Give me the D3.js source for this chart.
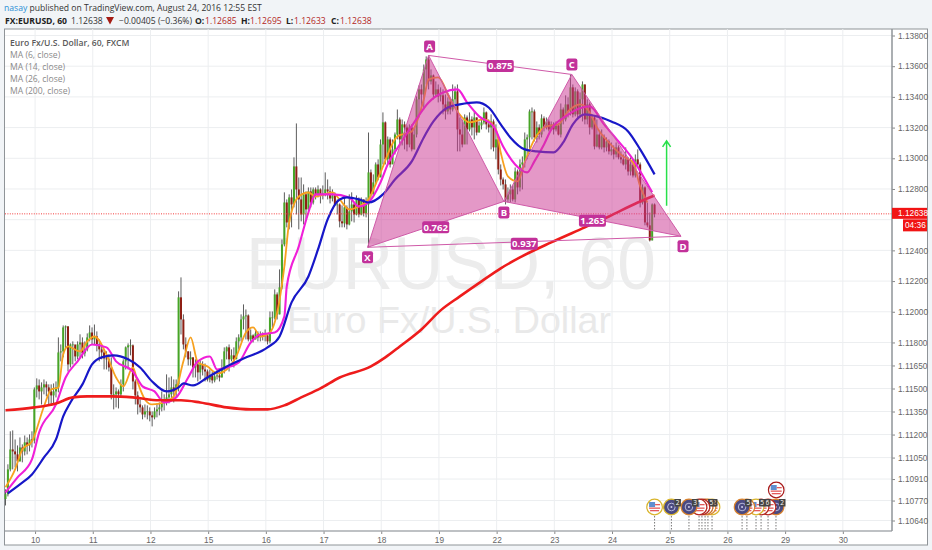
<!DOCTYPE html>
<html lang="en">
<head>
    <meta charset="UTF-8">
    <title>EURUSD 60</title>
    <script src="https://cdnjs.cloudflare.com/ajax/libs/d3/7.8.5/d3.min.js"></script>
    <style>
        body { margin: 0; background: #f1f4f7; }
        svg { display: block; }
        text { font-family: "Open Sans", sans-serif; }
        .axis text { font-family: "Liberation Sans", sans-serif; font-size: 8.3px; fill: #666; }
        .axis path { display: none; }
        .axis line { stroke: #888; }
    </style>
</head>
<body>

<script>
    var width = 932,
        height = 550;

    // tick labels
    var dayLabels = ["10", "11", "12", "15", "16", "17", "18", "19", "22", "23", "24", "25", "26", "29", "30"];
    var dayBars = [12.3, 36.3, 60.3, 84.3, 108.3, 132.3, 156.3, 180.3, 204.3, 228.3, 252.3, 276.3, 300.3, 324.3, 348.3];
    var priceTicks = [1.138, 1.136, 1.134, 1.132, 1.13, 1.128, 1.124, 1.122, 1.12, 1.118, 1.1165, 1.115, 1.1135, 1.112, 1.1105, 1.1091, 1.1077, 1.1064];
    var lastPrice = 1.12638;

    // hourly bars, open is the close of the bar before
    var closes = [
        1.10811,1.10973,1.11103,1.11090,1.11071,1.11025,1.11116,1.11090,1.11149,1.11129,1.11168,1.11162,1.11494,
        1.11520,1.11481,1.11507,1.11527,1.11507,1.11481,1.11455,1.11481,1.11507,1.11735,1.11742,1.11898,1.11905,
        1.11657,1.11787,1.11787,1.11709,1.11787,1.11800,1.11729,1.11755,1.11833,1.11865,1.11820,1.11840,1.11787,
        1.11755,1.11735,1.11696,1.11690,1.11637,1.11462,1.11462,1.11481,1.11462,1.11527,1.11677,1.11768,1.11781,1.11781,
        1.11546,1.11455,1.11396,1.11377,1.11331,1.11351,1.11351,1.11325,1.11312,1.11351,1.11364,1.11377,1.11409,1.11409,
        1.11442,1.11462,1.11507,1.11481,1.11527,1.12094,
        1.11950,1.11787,1.11742,1.11690,1.11703,1.11637,1.11657,1.11605,1.11657,1.11624,1.11611,1.11559,
        1.11585,1.11553,1.11579,1.11585,1.11572,1.11624,1.11742,1.11768,1.11690,1.11716,1.11690,1.11807,1.11833,
        1.11950,1.11970,1.11976,1.11820,1.11846,1.11820,1.11859,1.11833,1.11853,1.11840,1.11846,1.11807,1.11963,
        1.11963,1.12113,1.11983,1.12159,1.12439,1.12712,1.12582,1.12745,1.12699,1.12947,1.12797,1.12732,
        1.12634,1.12765,1.12667,1.12784,1.12712,1.12797,1.12758,1.12797,1.12758,1.12771,1.12797,1.12784,1.12738,
        1.12758,1.12699,1.12699,1.12589,1.12576,1.12680,1.12569,1.12654,1.12699,1.12634,1.12732,1.12634,1.12732,1.12641,1.12699,1.12908,
        1.12765,1.12843,1.12960,1.12875,1.13090,1.13234,1.12993,1.13123,1.12960,1.13058,1.13155,1.13253,1.13123,1.13221,
        1.13201,1.13090,1.13201,1.13058,1.13155,1.13384,1.13449,1.13416,1.13579,1.13644,1.13501,1.13540,1.13416,
        1.13449,1.13403,1.13410,1.13351,1.13305,1.13370,1.13318,1.13384,1.13436,1.13188,1.13155,1.13090,1.13266,1.13188,
        1.13253,1.13201,1.13266,1.13168,1.13214,1.13234,1.13299,1.13221,1.13201,1.13240,1.13071,1.13123,1.12927,1.12862,
        1.12830,1.12732,1.12765,1.12797,1.12732,1.12914,1.12810,1.12960,1.12973,1.13123,1.13136,1.13305,1.13305,
        1.13136,1.13201,1.13155,1.13260,1.13201,1.13240,1.13188,1.13221,1.13188,1.13214,1.13155,1.13318,1.13253,1.13351,1.13305,
        1.13462,1.13286,1.13436,1.13286,1.13384,1.13481,1.13253,1.13351,1.13201,1.13266,1.13077,1.13155,1.13071,1.13142,1.13071,
        1.13110,1.13045,1.13058,1.13025,1.13071,1.13006,1.12993,1.12960,1.12993,1.12914,1.12960,1.12888,1.12993,1.12960,1.12712,1.12810,1.12582,1.12563,1.12465,1.12699,1.12638
    ];
    var highs = [
        1.10843,1.11006,1.11221,1.11227,1.11168,1.11129,1.11181,1.11136,1.11194,1.11181,1.11201,1.11221,1.11507,
        1.11566,1.11559,1.11540,1.11559,1.11546,1.11527,1.11527,1.11533,1.11546,1.11833,1.11787,1.11911,1.11911,
        1.11905,1.11794,1.11807,1.11774,1.11807,1.11853,1.11833,1.11807,1.11859,1.11911,1.11898,1.11917,1.11872,
        1.11820,1.11787,1.11755,1.11742,1.11722,1.11703,1.11527,1.11507,1.11494,1.11559,1.11690,1.11774,1.11794,1.11820,
        1.11787,1.11559,1.11481,1.11429,1.11390,1.11396,1.11390,1.11377,1.11351,1.11377,1.11403,1.11409,1.11481,1.11462,
        1.11592,1.11572,1.11579,1.11559,1.11559,1.12133,
        1.12224,1.11983,1.11833,1.11742,1.11742,1.11703,1.11690,1.11670,1.11683,1.11677,1.11663,1.11624,
        1.11624,1.11611,1.11611,1.11624,1.11611,1.11690,1.11768,1.11774,1.11787,1.11755,1.11768,1.11833,1.11853,
        1.11983,1.12048,1.12015,1.11983,1.11885,1.11853,1.11885,1.11872,1.11872,1.11866,1.11885,1.11859,1.12002,
        1.12002,1.12146,1.12126,1.12276,1.12471,1.12778,1.12732,1.12765,1.12797,1.13006,1.13227,1.12875,
        1.12875,1.12830,1.12784,1.12810,1.12810,1.12810,1.12810,1.12823,1.12804,1.12823,1.12908,1.12862,1.12817,
        1.12797,1.12778,1.12732,1.12706,1.12693,1.12758,1.12693,1.12765,1.12778,1.12712,1.12758,1.12745,1.12745,1.12732,1.12745,1.13168,
        1.12927,1.12895,1.12973,1.12993,1.13123,1.13299,1.13240,1.13142,1.13136,1.13123,1.13168,1.13318,1.13266,1.13253,
        1.13240,1.13214,1.13221,1.13221,1.13201,1.13403,1.13475,1.13481,1.13611,1.13664,1.13670,1.13579,1.13546,
        1.13501,1.13481,1.13462,1.13449,1.13416,1.13397,1.13384,1.13481,1.13468,1.13481,1.13266,1.13253,1.13286,1.13279,
        1.13299,1.13273,1.13305,1.13266,1.13240,1.13266,1.13331,1.13305,1.13253,1.13286,1.13253,1.13221,1.13136,1.12960,
        1.12875,1.12862,1.12810,1.12830,1.12823,1.12940,1.12927,1.12993,1.13012,1.13168,1.13155,1.13318,1.13331,
        1.13318,1.13240,1.13221,1.13286,1.13273,1.13266,1.13253,1.13240,1.13234,1.13240,1.13227,1.13357,1.13331,1.13410,1.13397,
        1.13546,1.13481,1.13462,1.13449,1.13429,1.13501,1.13481,1.13384,1.13364,1.13286,1.13279,1.13253,1.13175,1.13188,1.13155,
        1.13136,1.13123,1.13103,1.13084,1.13103,1.13084,1.13045,1.13025,1.13071,1.13006,1.13006,1.12993,1.13025,1.13058,1.12973,1.12830,1.12817,1.12712,1.12647,1.12706,1.12706
    ];
    var lows = [
        1.10738,1.10797,1.10960,1.10973,1.10986,1.10960,1.11025,1.11019,1.11064,1.11071,1.11090,1.11116,1.11142,
        1.11442,1.11429,1.11396,1.11462,1.11449,1.11396,1.11390,1.11403,1.11442,1.11475,1.11677,1.11703,1.11755,
        1.11611,1.11637,1.11657,1.11677,1.11690,1.11703,1.11696,1.11709,1.11742,1.11807,1.11787,1.11787,1.11742,
        1.11677,1.11690,1.11624,1.11624,1.11611,1.11429,1.11364,1.11377,1.11370,1.11442,1.11481,1.11624,1.11624,1.11716,
        1.11494,1.11396,1.11331,1.11344,1.11299,1.11312,1.11299,1.11286,1.11253,1.11299,1.11312,1.11325,1.11351,1.11357,
        1.11390,1.11403,1.11423,1.11409,1.11442,1.11481,
        1.11852,1.11755,1.11703,1.11650,1.11650,1.11572,1.11572,1.11546,1.11559,1.11585,1.11546,1.11546,
        1.11540,1.11533,1.11540,1.11559,1.11546,1.11572,1.11598,1.11690,1.11611,1.11677,1.11637,1.11703,1.11755,
        1.11807,1.11885,1.11820,1.11807,1.11807,1.11800,1.11820,1.11807,1.11807,1.11813,1.11807,1.11787,1.11794,
        1.11898,1.11950,1.11950,1.11983,1.12146,1.12426,1.12550,1.12537,1.12550,1.12680,1.12634,1.12537,
        1.12589,1.12569,1.12602,1.12654,1.12680,1.12699,1.12732,1.12745,1.12706,1.12732,1.12752,1.12732,1.12706,
        1.12719,1.12693,1.12634,1.12550,1.12550,1.12550,1.12537,1.12563,1.12589,1.12582,1.12628,1.12615,1.12628,1.12621,1.12615,1.12419,
        1.12732,1.12752,1.12830,1.12856,1.12993,1.12960,1.12960,1.12960,1.12940,1.12979,1.13025,1.13123,1.13090,1.13084,
        1.13058,1.13045,1.13071,1.13045,1.13058,1.13136,1.13266,1.13318,1.13318,1.13481,1.13449,1.13481,1.13384,
        1.13403,1.13364,1.13370,1.13286,1.13253,1.13286,1.13286,1.13305,1.13351,1.13045,1.13045,1.13071,1.13155,1.13090,
        1.13175,1.13149,1.13123,1.13149,1.13168,1.13188,1.13221,1.13188,1.13168,1.13058,1.13045,1.12993,1.12895,1.12823,
        1.12797,1.12699,1.12712,1.12712,1.12719,1.12712,1.12765,1.12784,1.12797,1.12940,1.12993,1.13058,1.13123,
        1.13110,1.13103,1.13123,1.13136,1.13175,1.13188,1.13175,1.13181,1.13155,1.13175,1.13149,1.13136,1.13221,1.13240,1.13266,
        1.13279,1.13266,1.13273,1.13253,1.13266,1.13240,1.13221,1.13221,1.13155,1.13188,1.13058,1.13071,1.13058,1.13058,1.13038,
        1.13045,1.13025,1.13019,1.12993,1.13006,1.12993,1.12967,1.12953,1.12927,1.12888,1.12888,1.12875,1.12875,1.12940,1.12680,1.12699,1.12563,1.12550,1.12458,1.12465,1.12615
    ];

    // moving averages: [bar, price]
    var ma200 = [[0,1.11358],[12,1.11377],[21,1.11403],[28,1.11442],[34,1.11449],[44,1.11449],[53,1.11442],[64,1.11423],[73,1.11423],[81,1.11409],[92,1.11377],[102,1.11364],[109,1.11364],[116,1.11390],[123,1.11442],[131,1.11501],[139,1.11572],[152,1.11644],[158,1.11703],[164,1.11774],[173,1.11885],[181,1.12009],[189,1.12100],[198,1.12198],[206,1.12283],[214,1.12354],[227,1.12452],[241,1.12550],[251,1.12621],[263,1.12712],[270,1.12758]];
    var ma26 = [[1,1.10817],[6,1.10875],[11,1.10940],[16,1.11051],[21,1.11168],[24,1.11318],[27,1.11409],[32,1.11527],[36,1.11657],[40,1.11703],[45,1.11716],[51,1.11690],[56,1.11637],[61,1.11546],[67,1.11481],[72,1.11507],[74,1.11533],[78,1.11520],[84,1.11572],[92,1.11644],[99,1.11696],[109,1.11768],[114,1.11839],[119,1.12061],[126,1.12230],[130,1.12406],[134,1.12602],[139,1.12732],[142,1.12745],[147,1.12732],[151,1.12712],[157,1.12765],[162,1.12862],[169,1.12980],[174,1.13136],[178,1.13240],[184,1.13331],[189,1.13351],[196,1.13364],[201,1.13331],[206,1.13221],[210,1.13136],[216,1.13058],[221,1.13045],[228,1.13038],[232,1.13103],[236,1.13221],[241,1.13286],[246,1.13273],[252,1.13240],[259,1.13175],[264,1.13058],[270,1.12895]];
    var ma14 = [[0,1.10823],[5,1.10921],[11,1.11038],[14,1.11214],[21,1.11396],[25,1.11572],[30,1.11677],[36,1.11787],[42,1.11768],[46,1.11677],[53,1.11611],[57,1.11514],[62,1.11481],[66,1.11409],[71,1.11442],[76,1.11572],[80,1.11677],[85,1.11709],[88,1.11624],[92,1.11637],[97,1.11670],[102,1.11800],[106,1.11852],[112,1.11865],[116,1.11970],[117,1.12165],[122,1.12426],[126,1.12647],[129,1.12765],[136,1.12765],[143,1.12745],[147,1.12686],[151,1.12712],[156,1.12843],[159,1.12960],[164,1.13090],[170,1.13234],[176,1.13364],[182,1.13429],[188,1.13449],[192,1.13364],[197,1.13273],[203,1.13208],[207,1.13077],[212,1.12960],[217,1.12908],[220,1.12980],[224,1.13090],[227,1.13188],[233,1.13273],[240,1.13331],[243,1.13338],[249,1.13221],[255,1.13110],[261,1.12993],[266,1.12862],[269,1.12778]];
    var ma6 = [[0,1.10856],[4,1.10973],[7,1.11103],[11,1.11155],[16,1.11383],[19,1.11494],[22,1.11507],[24,1.11722],[26,1.11774],[31,1.11742],[34,1.11807],[37,1.11839],[42,1.11722],[46,1.11572],[49,1.11514],[53,1.11637],[55,1.11540],[58,1.11429],[61,1.11396],[66,1.11409],[70,1.11449],[74,1.11677],[77,1.11833],[80,1.11670],[84,1.11644],[88,1.11598],[92,1.11624],[96,1.11709],[100,1.11865],[103,1.11898],[106,1.11839],[110,1.11865],[112,1.11931],[116,1.12296],[118,1.12582],[122,1.12751],[126,1.12777],[129,1.12751],[136,1.12777],[139,1.12732],[143,1.12667],[147,1.12686],[151,1.12732],[156,1.12908],[163,1.13142],[169,1.13175],[174,1.13384],[176,1.13514],[180,1.13527],[185,1.13384],[188,1.13305],[193,1.13234],[199,1.13253],[204,1.13188],[206,1.13038],[209,1.12882],[213,1.12849],[216,1.12973],[220,1.13123],[225,1.13208],[230,1.13221],[234,1.13305],[239,1.13351],[243,1.13299],[246,1.13201],[251,1.13103],[257,1.13012],[261,1.12973],[264,1.12817],[267,1.12712]];

    // the XABCD pattern
    var patternNames = ["X", "A", "B", "C", "D"];
    var patternBars = [150.6, 176, 207.3, 235.6, 281];
    var patternPrices = [1.12420, 1.13670, 1.12719, 1.13546, 1.12492];
    var ratioLabels = ["0.762", "0.875", "1.263", "0.937"];
    var arrowBars = [275, 275];
    var arrowPrices = [1.12690, 1.13113];

    // calendar events along the bottom, back to front
    var eventBars = [270, 293.9, 292.2, 291, 289.7, 288.5, 284.3, 277, 320.5, 317.2, 314.3, 312.2, 308.4, 306.4];
    var eventKinds = ["flag", "flag", "flag", "flag", "flag", "flag", "wheel", "wheel", "wheel", "flag", "flag", "flag", "flag", "wheel"];
    var eventRings = ["#d9b52c", "#d9b52c", "#d98a2c", "#c9752c", "#b3261e", "#b3261e", "#d9822c", "#d9b52c", "#d9822c", "#b3261e", "#b3261e", "#d9b52c", "#d9822c", "#d9822c"];
    var eventBadges = ["", "", "2", "5", "", "", "3", "2", "2", "", "6", "5", "", "5"];
    var topEventBar = 320.6;

    var left = 5, right = 892, top_ = 29, bottom = 531;

    var x = d3.scaleLinear().domain([0, 350]).range([5.5, 846.9]);
    var y = d3.scaleLinear().domain([1.138, 1.1064]).range([35.5, 520.5]);

    var svg = d3.select("body").append("svg")
        .attr("width", width)
        .attr("height", height);

    // frame
    svg.append("rect").attr("x", 4.5).attr("y", top_).attr("width", 923).attr("height", 516)
        .attr("fill", "#fff").attr("stroke", "#8f9498");

    // watermark
    svg.append("text").attr("x", 246).attr("y", 289).style("font-family", "Liberation Sans").attr("font-size", 74).attr("fill", "#ececec")
        .attr("textLength", 410).attr("lengthAdjust", "spacingAndGlyphs").text("EURUSD, 60");
    svg.append("text").attr("x", 287).attr("y", 333).style("font-family", "Liberation Sans").attr("font-size", 36).attr("fill", "#e9e9e9")
        .attr("textLength", 324).attr("lengthAdjust", "spacingAndGlyphs").text("Euro Fx/U.S. Dollar");

    // grid
    var grid = svg.append("g");
    grid.selectAll("line.h").data(priceTicks.concat([1.126])).enter().append("line")
        .attr("x1", left).attr("x2", right)
        .attr("y1", function(d) { return y(d); }).attr("y2", function(d) { return y(d); })
        .attr("stroke", "#eceef0");
    grid.selectAll("line.v").data(dayBars).enter().append("line")
        .attr("x1", function(d) { return x(d); }).attr("x2", function(d) { return x(d); })
        .attr("y1", top_).attr("y2", bottom)
        .attr("stroke", "#eceef0");

    // candles
    var bars = closes.map(function(c, i) {
        return { i: i, open: i ? closes[i - 1] : 1.10780, close: c, high: highs[i], low: lows[i] };
    });
    var candles = svg.append("g");
    candles.selectAll("line").data(bars).enter().append("line")
        .attr("x1", function(d) { return x(d.i); }).attr("x2", function(d) { return x(d.i); })
        .attr("y1", function(d) { return y(d.high); }).attr("y2", function(d) { return y(d.low); })
        .attr("stroke", "#4a4a4a").attr("stroke-width", 0.9);
    candles.selectAll("rect").data(bars).enter().append("rect")
        .attr("x", function(d) { return x(d.i) - 1; })
        .attr("width", 2)
        .attr("y", function(d) { return y(Math.max(d.open, d.close)); })
        .attr("height", function(d) { return Math.max(0.8, Math.abs(y(d.open) - y(d.close))); })
        .attr("fill", function(d) { return d.close >= d.open ? "#46a526" : "#8e1f14"; });

    // moving averages
    var line = d3.line()
        .x(function(d) { return x(d[0]); })
        .y(function(d) { return y(d[1]); })
        .curve(d3.curveMonotoneX);
    function drawMa(data, color, w) {
        svg.append("path").attr("d", line(data)).attr("fill", "none")
            .attr("stroke", color).attr("stroke-width", w).attr("stroke-linejoin", "round");
    }
    drawMa(ma6, "#f7a11f", 1.8);
    drawMa(ma14, "#f01fd8", 2.1);
    drawMa(ma26, "#1717c8", 2.2);
    drawMa(ma200, "#ee1c1c", 2.6);

    // last price line
    svg.append("line").attr("x1", left).attr("x2", right).attr("y1", y(lastPrice)).attr("y2", y(lastPrice))
        .attr("stroke", "#f23c3c").attr("stroke-dasharray", "1 1.4");

    // pattern
    var pts = patternBars.map(function(b, i) { return [x(b), y(patternPrices[i])]; });
    var X = pts[0], A = pts[1], B = pts[2], C = pts[3], D = pts[4];
    var pattern = svg.append("g");
    [[X, A, B], [B, C, D]].forEach(function(tri) {
        pattern.append("path").attr("d", "M" + tri.join("L") + "Z")
            .attr("fill", "#cc3a94").attr("fill-opacity", 0.52).attr("stroke", "none");
    });
    [[X, A], [A, B], [B, C], [C, D], [X, B], [B, D], [A, C], [X, D]].forEach(function(s) {
        pattern.append("line").attr("x1", s[0][0]).attr("y1", s[0][1]).attr("x2", s[1][0]).attr("y2", s[1][1])
            .attr("stroke", "#cf5aa8").attr("stroke-width", 1);
    });
    function tag(cx, cy, txt) {
        var w = txt.length > 1 ? 27 : 11;
        pattern.append("rect").attr("x", cx - w / 2).attr("y", cy - 6).attr("width", w).attr("height", 12)
            .attr("rx", 2).attr("fill", "#c2319a");
        pattern.append("text").attr("x", cx).attr("y", cy + 3.3).attr("text-anchor", "middle")
            .attr("font-size", 9.5).attr("font-weight", 700).attr("fill", "#fff").text(txt);
    }
    // names sit 10px off the points, ratios at the middle of their leg
    tag(X[0], X[1] + 10, "X");
    tag(A[0] + 1, A[1] - 9, "A");
    tag(B[0], B[1] + 11, "B");
    tag(C[0], C[1] - 10, "C");
    tag(D[0] + 2, D[1] + 10, "D");
    tag((X[0] + B[0]) / 2, (X[1] + B[1]) / 2 + 3, ratioLabels[0]);
    tag((A[0] + C[0]) / 2, (A[1] + C[1]) / 2 + 1, ratioLabels[1]);
    tag((B[0] + D[0]) / 2, (B[1] + D[1]) / 2 + 2, ratioLabels[2]);
    tag((X[0] + D[0]) / 2, (X[1] + D[1]) / 2 + 2, ratioLabels[3]);

    // arrow
    var ax = x(arrowBars[0]), ay0 = y(arrowPrices[0]), ay1 = y(arrowPrices[1]);
    svg.append("path").attr("d", "M" + ax + "," + ay0 + "V" + ay1 + "M" + (ax - 4) + "," + (ay1 + 6) + "L" + ax + "," + ay1 + "L" + (ax + 4) + "," + (ay1 + 6))
        .attr("fill", "none").attr("stroke", "#27e04a").attr("stroke-width", 1.5);

    // events
    var ev = svg.append("g");
    function drawEvent(bar, cy, kind, ring, badge) {
        var cx = x(bar), r = 7.8;
        if (kind === "flag") {
            ev.append("circle").attr("cx", cx).attr("cy", cy).attr("r", r).attr("fill", "#fff");
            ev.append("rect").attr("x", cx - 5.5).attr("y", cy + 0.5).attr("width", 11).attr("height", 1.3).attr("fill", "#e45a5a");
            ev.append("rect").attr("x", cx - 4.5).attr("y", cy + 3).attr("width", 9).attr("height", 1.3).attr("fill", "#e45a5a");
            ev.append("rect").attr("x", cx - 5.5).attr("y", cy - 5).attr("width", 6).attr("height", 5).attr("fill", "#5f8fd0");
            ev.append("rect").attr("x", cx + 0.5).attr("y", cy - 3).attr("width", 5).attr("height", 1.3).attr("fill", "#e45a5a");
        } else {
            ev.append("circle").attr("cx", cx).attr("cy", cy).attr("r", r).attr("fill", "#4a4a82");
            ev.append("circle").attr("cx", cx).attr("cy", cy).attr("r", 3.8).attr("fill", "none").attr("stroke", "#b9b9d8");
            ev.append("circle").attr("cx", cx).attr("cy", cy).attr("r", 1).attr("fill", "#d0d0e8");
        }
        ev.append("circle").attr("cx", cx).attr("cy", cy).attr("r", r).attr("fill", "none")
            .attr("stroke", ring).attr("stroke-width", 1.2);
        if (badge) {
            ev.append("rect").attr("x", cx + 3).attr("y", cy - 8).attr("width", 6.5).attr("height", 7.5).attr("fill", "#444");
            ev.append("text").attr("x", cx + 6.2).attr("y", cy - 1.8).attr("text-anchor", "middle")
                .attr("font-size", 6.5).attr("fill", "#fff").text(badge);
        }
    }
    ev.selectAll("line").data(eventBars).enter().append("line")
        .attr("x1", function(d) { return x(d); }).attr("x2", function(d) { return x(d); })
        .attr("y1", 516).attr("y2", bottom)
        .attr("stroke", "#777").attr("stroke-dasharray", "1.5 1.5");
    drawEvent(topEventBar, 490, "flag", "#a81a1a", "");
    eventBars.forEach(function(b, i) { drawEvent(b, 507, eventKinds[i], eventRings[i], eventBadges[i]); });

    // axes
    var xAxis = d3.axisBottom(x).tickValues(dayBars).tickSize(3).tickPadding(3)
        .tickFormat(function(d, i) { return dayLabels[i]; });
    svg.append("g").attr("class", "axis").attr("transform", "translate(0," + bottom + ")").call(xAxis);
    var yAxis = d3.axisRight(y).tickValues(priceTicks).tickSize(3).tickPadding(3)
        .tickFormat(d3.format(".5f"));
    svg.append("g").attr("class", "axis").attr("transform", "translate(" + right + ",0)").call(yAxis);

    svg.append("line").attr("x1", left).attr("x2", right).attr("y1", bottom).attr("y2", bottom)
        .attr("stroke", "#a9adb0").attr("stroke-width", 1.5);
    svg.append("line").attr("x1", right).attr("x2", right).attr("y1", top_).attr("y2", bottom)
        .attr("stroke", "#8f9498").attr("stroke-width", 1.5);

    // last price and countdown
    svg.append("rect").attr("x", right).attr("y", y(lastPrice) - 6).attr("width", 35).attr("height", 11).attr("fill", "#f11414");
    svg.append("text").attr("x", 898).attr("y", y(lastPrice) + 2.5)
        .style("font-family", "Liberation Sans").attr("font-size", 8.3).attr("fill", "#fff").text(d3.format(".5f")(lastPrice));
    svg.append("rect").attr("x", 903).attr("y", y(lastPrice) + 5.5).attr("width", 24).attr("height", 12).attr("fill", "#f11414");
    svg.append("text").attr("x", 905).attr("y", y(lastPrice) + 14.5)
        .style("font-family", "Liberation Sans").attr("font-size", 8.3).attr("fill", "#fff").text("04:36");

    // legend
    var legendLines = ["Euro Fx/U.S. Dollar, 60, FXCM", "MA (6, close)", "MA (14, close)", "MA (26, close)", "MA (200, close)"];
    svg.selectAll("text.legend").data(legendLines).enter().append("text")
        .attr("x", 10)
        .attr("y", function(d, i) { return 46 + i * 12; })
        .attr("font-size", 8.6)
        .attr("font-weight", function(d, i) { return i ? 400 : 600; })
        .attr("fill", function(d, i) { return i ? "#8a8a8a" : "#5a5a5a"; })
        .text(function(d) { return d; });

    // header
    var header = svg.append("text").attr("x", 4).attr("y", 11).attr("font-size", 8.6).attr("fill", "#333");
    header.append("tspan").attr("fill", "#2b8fd6").text("nasay");
    header.append("tspan").text(" published on TradingView.com, August 24, 2016 12:55 EST");

    var quote = [
        [5, "FX:EURUSD, 60", 700, "#222"],
        [71, "1.12638", 400, "#333"],
        [119, "\u22120.00405 (\u22120.36%)", 400, "#333"],
        [195, "O:", 700, "#222"], [205, "1.12685", 400, "#b3261e"],
        [241, "H:", 700, "#222"], [250, "1.12695", 400, "#b3261e"],
        [286, "L:", 700, "#222"], [294, "1.12633", 400, "#b3261e"],
        [331, "C:", 700, "#222"], [340, "1.12638", 400, "#b3261e"]
    ];
    svg.selectAll("text.quote").data(quote).enter().append("text")
        .attr("x", function(d) { return d[0]; }).attr("y", 23.5)
        .attr("font-size", 8.6)
        .attr("font-weight", function(d) { return d[2]; })
        .attr("fill", function(d) { return d[3]; })
        .text(function(d) { return d[1]; });
    svg.append("path").attr("d", "M106,17H114L110,24.5Z").attr("fill", "#a51c14");
</script>


</body>
</html>
